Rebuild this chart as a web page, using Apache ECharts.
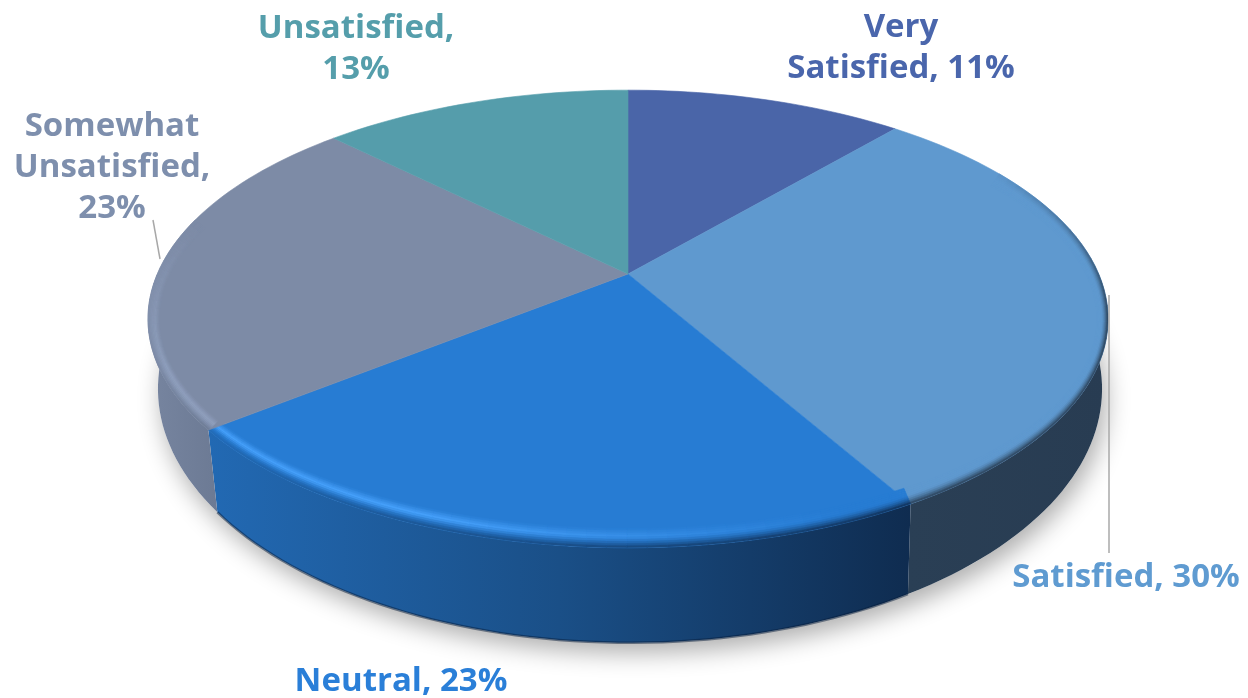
<!DOCTYPE html>
<html><head><meta charset="utf-8">
<style>html,body{margin:0;padding:0;background:#fff}#c{width:1248px;height:698px}</style>
<script src="https://cdn.jsdelivr.net/npm/echarts@6/dist/echarts.min.js"></script>
</head><body><div id="c"></div>
<script>
const categories = ['Very\nSatisfied', 'Satisfied', 'Neutral', 'Somewhat\nUnsatisfied', 'Unsatisfied'];
const percents = [11.3, 30.4, 22.6, 23.1, 12.6];
const labelBreaks = [' ', ' ', ' ', '\n', '\n'];
const topColors = ['#4a65a8', '#5f99cf', '#277cd3', '#7d8ba6', '#559dab'];
const labelColors = ['#4a66ac', '#5f9bd1', '#2a7fd8', '#7e8fad', '#559eab'];
const wallStops = [['#2a3e5c', '#2a3e5c'], ['#2a3f55', '#283c52'], ['#2269b3', '#1a4f87', '#0f2c50'], ['#7785a0', '#6c7a94'], ['#3a6a75', '#3a6a75']];
const rimLights = ['#4a65a8', '#5f99cf', '#46a0fa', '#8f9fbd', '#559dab'];
const rimFalloff = [1, 1, 1, 0.35, 1];
const wallEdges = [null, null, 'rgba(8,30,60,0.5)', null, null];

// layout of the projected disc
const CX = 628, CY = 274, RX = 470.7, RY = 220, K = 0.1965;
const TOP_MID = [628, 319], TOP_R = [480, 229], LOW_MID = [630, 389], LOW_R = [472, 254];
const labelPos = [[901, 48], [1126, 578], [401, 682], [112, 168], [356, 49]];
const leaders = [[1109, 295, 1109, 553], [153, 220, 160, 259]];
const total = percents.reduce((a, b) => a + b, 0);
const startDeg = percents.map((_, i) => percents.slice(0, i).reduce((a, b) => a + b, 0) / total * 360);
const endDeg = percents.map((v, i) => startDeg[i] + v / total * 360);

function rim(deg) {
  const a = deg * Math.PI / 180, u = Math.sin(a), v = Math.cos(a), w = 1 + K * v;
  return [CX + RX * u / w, CY - RY * v / w];
}
function low(deg) {
  const p = rim(deg);
  return [LOW_MID[0] + (p[0] - TOP_MID[0]) / TOP_R[0] * LOW_R[0], LOW_MID[1] + (p[1] - TOP_MID[1]) / TOP_R[1] * LOW_R[1]];
}
function bevel(deg, t) {
  const p = rim(deg), s = 1 - t;
  return [p[0] + (TOP_MID[0] - p[0]) * 0.024 * s, p[1] + (TOP_MID[1] - p[1]) * 0.085 * s];
}
function arc(a, b, fn) {
  const n = Math.max(2, Math.ceil((b - a) / 1.5)), out = [];
  for (let i = 0; i <= n; i++) out.push(fn(a + (b - a) * i / n));
  return out;
}
function hex(c) { return [1, 3, 5].map(i => parseInt(c.substr(i, 2), 16)); }
function mix(a, b, t) { return a.map((x, i) => x + (b[i] - x) * t); }
function css(c) { return 'rgb(' + c.map(Math.round).join(',') + ')'; }
function ramp(x, a, b) { return Math.min(1, Math.max(0, (x - a) / (b - a))); }
const dummy = percents.map(v => [v]);

function shadowLayer(p) {
  if (p.dataIndex !== 0) return null;
  return { type: 'polygon', shape: { points: arc(0, 360, low) },
    style: { fill: '#fff', shadowColor: 'rgba(0,0,0,0.32)', shadowBlur: 24, shadowOffsetX: 4, shadowOffsetY: 10 } };
}
function wallLayer(p) {
  const i = p.dataIndex;
  const a = Math.max(startDeg[i], 90), b = Math.min(endDeg[i], 270);
  if (b <= a) return null;
  const pts = arc(a, b, rim).concat(arc(a, b, low).reverse());
  const st = wallStops[i];
  const kids = [{ type: 'polygon', shape: { points: pts }, style: { stroke: null,
      fill: { type: 'linear', x: 0, y: 0, x2: 1, y2: 0, colorStops: st.map((c, j) => ({ offset: j / (st.length - 1), color: c })) } } }];
  if (wallEdges[i]) kids.push({ type: 'polyline', shape: { points: arc(a, b, low) }, style: { fill: null, stroke: wallEdges[i], lineWidth: 2.5 } });
  return { type: 'group', children: kids };
}
function topLayer(p) {
  const i = p.dataIndex, a0 = startDeg[i], b0 = endDeg[i];
  const kids = [{ type: 'polygon', shape: { points: [[CX, CY]].concat(arc(a0, b0, rim)) }, style: { fill: topColors[i], stroke: topColors[i], lineWidth: 0.6 } }];
  const base = hex(topColors[i]), light = hex(rimLights[i]);
  const st = wallStops[i], wallR = hex(st[st.length - 1]), wallL = hex(st[0]);
  const a = Math.max(a0, 60), b = Math.min(b0, 285), rings = 9;
  if (b > a) for (let d = a; d < b - 0.01; d += 2) {
    const e = Math.min(d + 2, b), m = (d + e) / 2;
    const lit = ramp(m, 158, 200) * (1 - ramp(m, 245, 285));
    const dk = ramp(m, 58, 100) * (1 - ramp(m, 232, 262));
    const edge = mix(wallR, wallL, (m - a0) / (b0 - a0));
    for (let r = 0; r < rings; r++) {
      const t0 = r / rings, t1 = (r + 1) / rings, tm = (t0 + t1) / 2;
      const bump = tm < 0.4 ? tm / 0.4 : Math.max(0, 1 - (tm - 0.4) / 0.4 * rimFalloff[i]);
      let c = mix(base, light, lit * bump);
      c = mix(c, edge, dk * Math.pow(ramp(tm, 0.45, 1), 1.6));
      const col = css(c);
      kids.push({ type: 'polygon', shape: { points: [bevel(d, t0), bevel(e, t0), bevel(e, t1), bevel(d, t1)] }, style: { fill: col, stroke: col, lineWidth: 0.5 } });
    }
  }
  return { type: 'group', children: kids };
}
function labelLayer(p) {
  const i = p.dataIndex;
  return { type: 'text', style: { text: categories[i] + ',' + labelBreaks[i] + Math.round(percents[i]) + '%', x: labelPos[i][0], y: labelPos[i][1],
    align: 'center', verticalAlign: 'middle', fill: labelColors[i], font: 'bold 33px "Open Sans"', lineHeight: 41 } };
}
function leaderLayer(p) {
  const l = leaders[p.dataIndex];
  if (!l) return null;
  return { type: 'line', shape: { x1: l[0], y1: l[1], x2: l[2], y2: l[3] }, style: { stroke: '#a8a8a8', lineWidth: 1.5 } };
}
const layers = [shadowLayer, wallLayer, topLayer, leaderLayer, labelLayer];
const chart = echarts.init(document.getElementById('c'), null, { renderer: 'canvas' });
chart.setOption({
  animation: false, backgroundColor: '#fff',
  series: layers.map((fn, n) => ({ type: 'custom', coordinateSystem: 'none', silent: true, z: n + 1, data: dummy, renderItem: fn }))
});
</script></body></html>
